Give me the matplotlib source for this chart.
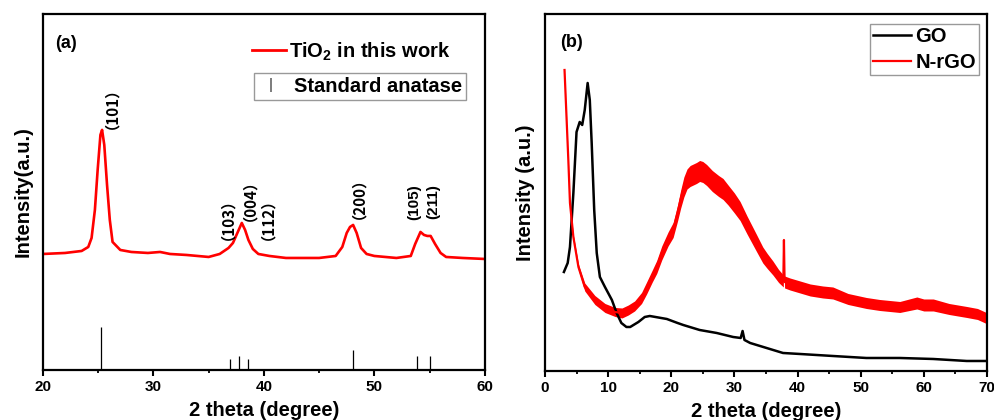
import matplotlib
matplotlib.use("Agg")
import matplotlib.pyplot as plt
from matplotlib.lines import Line2D
from matplotlib.ticker import MultipleLocator
import numpy as np

plt.rcParams["font.family"] = ["Liberation Sans", "Noto Sans CJK SC", "DejaVu Sans"]
plt.rcParams["font.weight"] = "bold"
plt.rcParams["mathtext.fontset"] = "custom"
plt.rcParams["mathtext.rm"] = "Liberation Sans:bold"
plt.rcParams["mathtext.bf"] = "Liberation Sans:bold"
plt.rcParams["mathtext.default"] = "rm"

# (a) TiO2 pattern, 2theta (deg) vs intensity (a.u.)
tio2_x = [20.0, 22.0, 23.5, 24.1, 24.4, 24.7, 24.95, 25.2, 25.35, 25.55, 25.8,
          26.05, 26.3, 27.0, 28.0, 29.5, 30.6, 31.5, 33.0, 35.0, 36.0, 36.8,
          37.2, 37.6, 38.0, 38.3, 38.6, 39.0, 39.5, 40.5, 42.0, 45.0, 46.5,
          47.1, 47.5, 47.8, 48.08, 48.4, 48.8, 49.3, 50.0, 52.0, 53.3, 53.7,
          54.18, 54.5, 54.8, 55.1, 55.5, 56.0, 56.5, 58.0, 60.0]
tio2_y = [116, 117, 119, 123, 132, 160, 200, 235, 240, 225, 185,
          150, 128, 120, 118, 117, 118, 116, 115, 113, 116, 122,
          127, 137, 147, 140, 130, 121, 116, 114, 112, 112, 114,
          123, 137, 143, 145, 137, 122, 116, 114, 112, 114, 126,
          138, 135, 134, 134, 126, 117, 113, 112, 111]

# standard anatase reflections
std_pos = [25.28, 36.92, 37.77, 38.58, 48.03, 53.88, 55.05]
std_height = [43, 11, 14, 11, 20, 14, 14]

# (hkl) labels: x, y, text
hkl_x = [25.45, 36.0, 38.0, 39.6, 47.8, 53.6, 55.3]
hkl_y = [270, 159, 178, 159, 180, 168, 168]
hkl_text = ["（101）", "（103）", "（004）", "（112）", "（200）", "(105)", "(211)"]

# (b) GO pattern
go_x = [3.0, 3.6, 3.96, 4.5, 5.0, 5.5, 5.9, 6.3, 6.76, 7.1, 7.4, 7.8, 8.2,
        8.7, 9.5, 10.6, 11.35, 12.1, 12.9, 13.5, 14.8, 15.8, 16.6, 17.5,
        19.3, 21.0, 21.9, 24.5, 27.2, 29.8, 31.0, 31.3, 31.6, 32.5, 35.1,
        37.7, 40.4, 45.6, 50.9, 56.2, 61.5, 66.8, 69.9]
go_y = [99, 108, 124, 178, 239, 249, 246, 261, 288, 271, 228, 161, 118,
        94, 84, 71, 58, 48, 44, 44, 49, 54, 55, 54,
        52, 48, 46, 41, 38, 34, 33, 40, 31, 28, 23,
        18, 17, 15, 13, 13, 12, 10, 10]

# (b) N-rGO pattern: centre of the noisy trace and its half spread
nrgo_x = [3.1, 3.7, 3.96, 4.5, 5.3, 6.3, 7.9, 9.5, 11.1, 12.2, 13.2, 14.2,
          15.3, 16.1, 17.0, 17.7, 18.5, 19.5, 20.3, 21.0, 21.5, 22.0, 22.5,
          23.0, 24.0, 24.5, 25.0, 25.6, 26.5, 27.5, 28.2, 29.0, 30.0, 30.9,
          32.0, 33.5, 34.5, 35.2, 36.1, 37.0, 37.75, 37.85, 37.95, 38.8,
          40.4, 42.0, 44.0, 45.6, 48.0, 50.9, 53.0, 56.2, 58.9, 60.0, 61.5,
          64.0, 66.8, 68.5, 69.9]
nrgo_y = [301, 211, 168, 134, 104, 84, 71, 63, 59, 58, 61, 65,
          73, 83, 95, 104, 118, 132, 141, 158, 172, 184, 192,
          195, 198, 200, 199, 196, 190, 185, 182, 176, 168, 160,
          146, 128, 116, 110, 103, 95, 90, 131, 89, 87,
          84, 81, 79, 78, 72, 68, 66, 64, 68, 66, 66,
          62, 59, 57, 53]
nrgo_spread = [0.5, 0.8, 1.2, 2.0, 3.0, 4.0, 4.5, 4.5, 4.5, 5.0, 5.0, 5.0,
               5.5, 6.0, 6.0, 6.5, 7.0, 7.0, 7.5, 8.0, 9.0, 10.0, 10.0,
               10.5, 10.5, 10.5, 10.5, 10.5, 10.5, 10.5, 10.5, 10.0, 10.0, 9.5,
               9.0, 8.5, 8.0, 7.5, 7.0, 6.5, 6.0, 1.0, 6.0, 6.0,
               6.0, 6.0, 6.0, 6.0, 5.5, 5.5, 5.5, 5.5, 6.0, 6.0, 6.0,
               5.5, 5.5, 5.5, 5.5]

LABEL_FS = 14.5
TICK_FS = 11
LEG_FS = 14.5
HKL_FONT = ["Noto Sans CJK SC", "Liberation Sans"]


def style_axes(ax, ymax):
    ax.set_ylim(0, ymax)
    ax.set_yticks([])
    ax.xaxis.set_major_locator(MultipleLocator(10))
    ax.xaxis.set_minor_locator(MultipleLocator(5))
    ax.tick_params(axis="x", which="major", direction="out", length=4, width=1.5,
                   labelsize=TICK_FS, pad=3)
    ax.tick_params(axis="x", which="minor", direction="out", length=2.2, width=1.3)
    for sp in ax.spines.values():
        sp.set_linewidth(1.6)
    for lbl in ax.get_xticklabels():
        lbl.set_fontweight("bold")
    ax.set_xlabel("2 theta (degree)", fontsize=LABEL_FS, fontweight="bold", labelpad=5)


fig = plt.figure(figsize=(9.95, 4.2), dpi=100)
ax_a = fig.add_axes([0.0432, 0.119, 0.444, 0.848])
ax_b = fig.add_axes([0.5477, 0.1167, 0.4442, 0.850])

# ---- panel (a)
ax_a.plot(tio2_x, tio2_y, color="#ff0000", lw=1.9)
ax_a.vlines(std_pos, 0, std_height, color="black", lw=0.9)
ax_a.set_xlim(20, 60)
style_axes(ax_a, 356)
ax_a.set_ylabel("Intensity(a.u.)", fontsize=LABEL_FS, fontweight="bold", labelpad=7.5)

for x, y, t in zip(hkl_x, hkl_y, hkl_text):
    fam = HKL_FONT if "（" in t else ["Liberation Sans"]
    ax_a.text(x, y, t, rotation=90, ha="center", va="center", fontsize=11,
              fontweight="bold", family=fam)

ax_a.text(0.027, 0.918, "(a)", transform=ax_a.transAxes, fontsize=13,
          fontweight="bold", ha="left", va="center")

leg1 = ax_a.legend(handles=[Line2D([], [], color="#ff0000", lw=2)],
                   labels=[r"TiO$_2$ in this work"],
                   loc="center left", bbox_to_anchor=(0.472, 0.894),
                   frameon=False, fontsize=LEG_FS, handlelength=1.7,
                   handletextpad=0.15, borderpad=0, borderaxespad=0)
ax_a.add_artist(leg1)
ax_a.legend(handles=[Line2D([], [], color="#666666", marker="|", ls="none",
                            markersize=10, markeredgewidth=1.2)],
            labels=["Standard anatase"],
            loc="upper left", bbox_to_anchor=(0.477, 0.834),
            fontsize=LEG_FS, handlelength=1.3, handletextpad=0.5,
            borderpad=0.2, borderaxespad=0, fancybox=False,
            edgecolor="#999999", framealpha=1)
ax_a.get_legend().get_frame().set_linewidth(1.0)

# ---- panel (b)
nx = np.array(nrgo_x)
ny = np.array(nrgo_y)
ns = np.array(nrgo_spread)
ax_b.fill_between(nx, ny - ns, ny + ns, color="#ff0000", lw=0)
ax_b.plot(go_x, go_y, color="black", lw=1.8, label="GO")
ax_b.plot(nrgo_x, nrgo_y, color="#ff0000", lw=1.6, label="N-rGO")
ax_b.set_xlim(0, 70)
style_axes(ax_b, 357)
ax_b.set_ylabel("Intensity (a.u.)", fontsize=LABEL_FS, fontweight="bold", labelpad=7.5)
ax_b.text(0.034, 0.919, "(b)", transform=ax_b.transAxes, fontsize=13,
          fontweight="bold", ha="left", va="center")
leg_b = ax_b.legend(loc="upper right", bbox_to_anchor=(0.982, 0.972),
                    fontsize=LEG_FS, handlelength=1.9, handletextpad=0.2,
                    borderpad=0.15, labelspacing=0.35, borderaxespad=0,
                    fancybox=False, edgecolor="#999999", framealpha=1)
leg_b.get_frame().set_linewidth(1.0)

fig.savefig("out.png", dpi=100)
